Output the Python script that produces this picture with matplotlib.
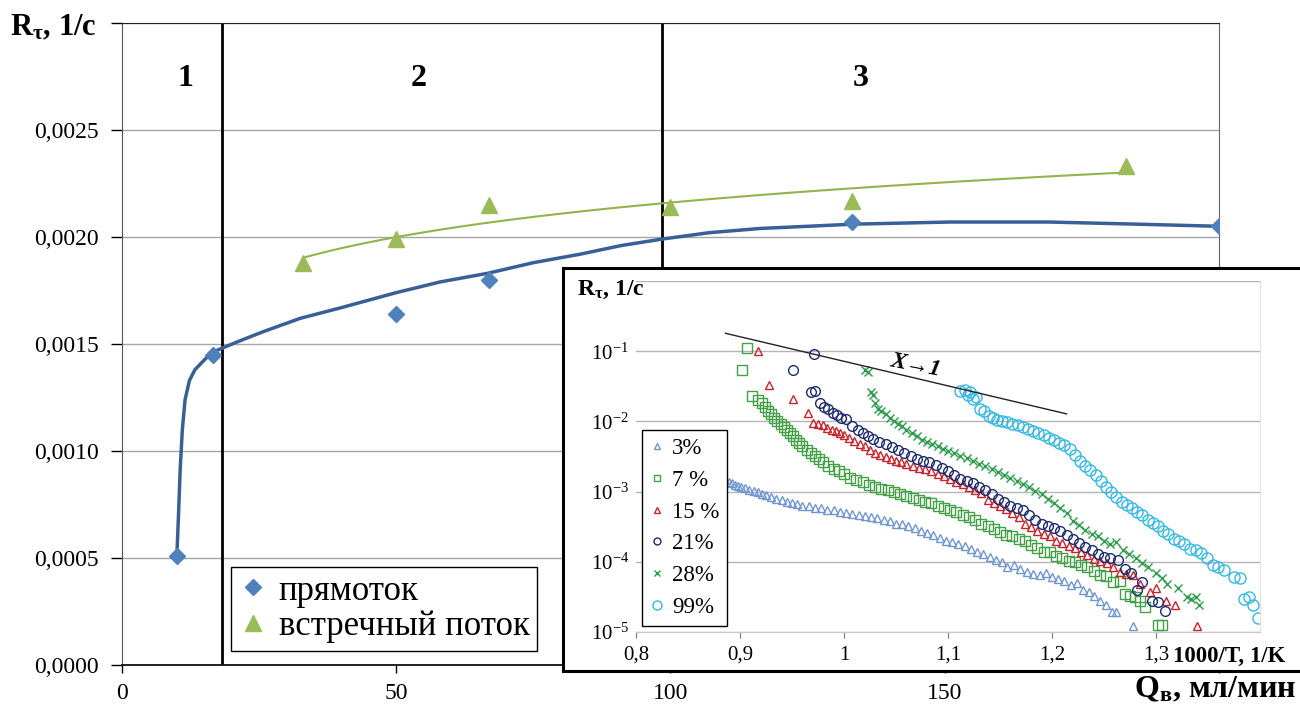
import numpy as np
import matplotlib
matplotlib.use("Agg")
import matplotlib.pyplot as plt
from matplotlib.ticker import FuncFormatter, NullLocator
from matplotlib.lines import Line2D

plt.rcParams['font.family'] = ['Liberation Serif', 'DejaVu Serif']
plt.rcParams['mathtext.fontset'] = 'custom'
plt.rcParams['mathtext.rm'] = 'Liberation Serif'
plt.rcParams['mathtext.it'] = 'Liberation Serif:italic'
plt.rcParams['mathtext.bf'] = 'Liberation Serif:bold'

# --- main chart: Rτ vs water flow ---
q_pr = [10, 16.5, 50, 67, 133, 200]
r_pr = [0.00051, 0.00145, 0.00164, 0.00180, 0.00207, 0.00205]
q_vs = [33, 50, 67, 100, 133, 183]
r_vs = [0.00188, 0.00199, 0.00215, 0.00214, 0.00217, 0.00233]

# smoothed curve for "прямоток"
curve_q = [10, 10.3, 10.6, 11, 11.5, 12.3, 13.3, 14.8, 16.4, 18.2, 22, 26, 32.5, 40,
           50, 58, 66.6, 75, 83.6, 91, 98.4, 107, 116.4, 125, 133.4, 151, 169, 185, 200]
curve_r = [0.00051, 0.00070, 0.00091, 0.00110, 0.00124, 0.00133, 0.00138, 0.00142,
           0.00146, 0.00148, 0.00152, 0.00156, 0.00162, 0.00167, 0.00174, 0.00179,
           0.00183, 0.00188, 0.00192, 0.00196, 0.00199, 0.00202, 0.00204, 0.00205,
           0.00206, 0.00207, 0.00207, 0.00206, 0.00205]

zone_bounds = [18.2, 98.4]
zone_labels = ["1", "2", "3"]
zone_x = [11.5, 54, 134.7]

# --- inset: Rτ vs 1000/T for different concentrations ---
x_3 = [0.883, 0.886, 0.889, 0.892, 0.895, 0.898, 0.901, 0.905, 0.909, 0.913, 0.917, 0.921,
       0.925, 0.930, 0.935, 0.940, 0.945, 0.950, 0.955, 0.960, 0.966, 0.972, 0.978, 0.984,
       0.990, 0.996, 1.002, 1.008, 1.014, 1.020, 1.026, 1.032, 1.038, 1.044, 1.050, 1.056,
       1.062, 1.068, 1.074, 1.080, 1.086, 1.092, 1.098, 1.104, 1.110, 1.116, 1.122, 1.128,
       1.134, 1.140, 1.146, 1.152, 1.157, 1.163, 1.169, 1.176, 1.182, 1.188, 1.194, 1.200,
       1.206, 1.212, 1.218, 1.224, 1.230, 1.236, 1.240, 1.246, 1.252, 1.258, 1.262, 1.278]
r_3 = [1.48e-3, 1.45e-3, 1.38e-3, 1.32e-3, 1.26e-3, 1.20e-3, 1.17e-3, 1.12e-3, 1.07e-3,
       1.02e-3, 9.8e-4, 9.3e-4, 8.9e-4, 8.5e-4, 7.9e-4, 7.6e-4, 7.2e-4, 6.9e-4, 6.6e-4,
       6.3e-4, 6.2e-4, 5.9e-4, 5.8e-4, 5.5e-4, 5.4e-4, 5.1e-4, 4.9e-4, 4.8e-4, 4.7e-4,
       4.5e-4, 4.4e-4, 4.2e-4, 4.0e-4, 3.8e-4, 3.5e-4, 3.4e-4, 3.2e-4, 3.0e-4, 2.75e-4,
       2.6e-4, 2.4e-4, 2.2e-4, 2.0e-4, 1.9e-4, 1.8e-4, 1.66e-4, 1.5e-4, 1.4e-4, 1.3e-4,
       1.17e-4, 1.07e-4, 1.0e-4, 8.3e-5, 8.9e-5, 7.9e-5, 7.2e-5, 6.8e-5, 6.5e-5, 6.9e-5,
       6.0e-5, 5.6e-5, 5.4e-5, 4.7e-5, 5.0e-5, 4.0e-5, 3.7e-5, 3.3e-5, 2.8e-5, 2.4e-5,
       1.9e-5, 1.9e-5, 1.2e-5]

x_7 = [0.902, 0.907, 0.912, 0.917, 0.921, 0.924, 0.927, 0.930, 0.933, 0.936, 0.939, 0.942,
       0.945, 0.948, 0.951, 0.954, 0.957, 0.960, 0.964, 0.968, 0.972, 0.976, 0.980, 0.985,
       0.990, 0.995, 1.000, 1.006, 1.012, 1.018, 1.024, 1.030, 1.036, 1.042, 1.048, 1.054,
       1.060, 1.066, 1.072, 1.078, 1.084, 1.090, 1.096, 1.102, 1.108, 1.114, 1.120, 1.126,
       1.132, 1.138, 1.144, 1.150, 1.156, 1.162, 1.168, 1.174, 1.180, 1.186, 1.192, 1.198,
       1.204, 1.210, 1.216, 1.222, 1.228, 1.234, 1.240, 1.246, 1.252, 1.259, 1.265, 1.270,
       1.275, 1.280, 1.285, 1.289, 1.302, 1.306]
r_7 = [5.4e-2, 1.1e-1, 2.3e-2, 2.0e-2, 1.8e-2, 1.6e-2, 1.4e-2, 1.26e-2, 1.12e-2, 1.02e-2,
       9.3e-3, 8.3e-3, 7.6e-3, 6.8e-3, 6.2e-3, 5.5e-3, 4.9e-3, 4.4e-3, 3.9e-3, 3.5e-3,
       3.2e-3, 2.9e-3, 2.6e-3, 2.3e-3, 2.1e-3, 1.95e-3, 1.78e-3, 1.58e-3, 1.45e-3, 1.35e-3,
       1.26e-3, 1.17e-3, 1.10e-3, 1.05e-3, 1.0e-3, 9.3e-4, 8.7e-4, 8.1e-4, 7.6e-4, 7.2e-4,
       6.8e-4, 6.3e-4, 5.9e-4, 5.5e-4, 5.1e-4, 4.7e-4, 4.3e-4, 3.9e-4, 3.5e-4, 3.2e-4,
       2.9e-4, 2.7e-4, 2.4e-4, 2.3e-4, 2.1e-4, 1.95e-4, 1.74e-4, 1.58e-4, 1.38e-4, 1.4e-4,
       1.2e-4, 1.15e-4, 1.02e-4, 9.8e-5, 8.9e-5, 8.3e-5, 7.4e-5, 6.5e-5, 6.3e-5, 5.1e-5,
       5.4e-5, 3.5e-5, 3.3e-5, 3.2e-5, 2.8e-5, 2.3e-5, 1.26e-5, 1.26e-5]

x_15 = [0.917, 0.928, 0.951, 0.965, 0.970, 0.975, 0.980, 0.984, 0.988, 0.992, 0.996, 1.000,
        1.005, 1.010, 1.015, 1.020, 1.025, 1.030, 1.035, 1.040, 1.045, 1.050, 1.055, 1.060,
        1.066, 1.072, 1.078, 1.084, 1.090, 1.096, 1.102, 1.108, 1.114, 1.120, 1.126, 1.132,
        1.138, 1.144, 1.150, 1.156, 1.162, 1.168, 1.174, 1.180, 1.186, 1.192, 1.198, 1.204,
        1.210, 1.216, 1.222, 1.228, 1.234, 1.240, 1.246, 1.253, 1.259, 1.265, 1.271, 1.278,
        1.285, 1.294, 1.300, 1.310, 1.318, 1.339]
r_15 = [1.0e-1, 3.3e-2, 2.1e-2, 1.3e-2, 9.5e-3, 9.3e-3, 8.9e-3, 8.1e-3, 7.6e-3, 7.2e-3,
        6.8e-3, 6.3e-3, 5.8e-3, 5.2e-3, 4.8e-3, 4.4e-3, 3.9e-3, 3.5e-3, 3.3e-3, 3.1e-3,
        2.95e-3, 2.75e-3, 2.6e-3, 2.5e-3, 2.35e-3, 2.2e-3, 2.1e-3, 1.95e-3, 1.8e-3, 1.66e-3,
        1.5e-3, 1.38e-3, 1.29e-3, 1.17e-3, 1.07e-3, 9.5e-4, 7.6e-4, 6.9e-4, 6.3e-4, 5.6e-4,
        4.9e-4, 4.3e-4, 3.5e-4, 3.1e-4, 2.75e-4, 2.5e-4, 2.3e-4, 2.0e-4, 1.86e-4, 1.7e-4,
        1.58e-4, 1.4e-4, 1.23e-4, 1.1e-4, 1.02e-4, 9.5e-5, 8.3e-5, 7.1e-5, 6.6e-5, 6.5e-5,
        4.9e-5, 3.7e-5, 4.2e-5, 2.8e-5, 2.4e-5, 1.2e-5]

x_21 = [0.951, 0.971, 0.968, 0.972, 0.977, 0.981, 0.985, 0.989, 0.993, 0.997, 1.002, 1.008,
        1.013, 1.018, 1.023, 1.028, 1.034, 1.040, 1.046, 1.052, 1.058, 1.064, 1.070, 1.076,
        1.082, 1.088, 1.094, 1.100, 1.106, 1.112, 1.118, 1.124, 1.130, 1.136, 1.142, 1.148,
        1.154, 1.160, 1.166, 1.172, 1.178, 1.184, 1.190, 1.196, 1.202, 1.208, 1.214, 1.220,
        1.226, 1.232, 1.238, 1.244, 1.250, 1.256, 1.263, 1.270, 1.276, 1.282, 1.287, 1.296,
        1.302, 1.309]
r_21 = [5.4e-2, 9.1e-2, 2.6e-2, 2.7e-2, 1.8e-2, 1.6e-2, 1.5e-2, 1.3e-2, 1.23e-2, 1.12e-2,
        1.07e-2, 8.5e-3, 7.6e-3, 6.8e-3, 6.2e-3, 5.6e-3, 5.1e-3, 4.7e-3, 4.3e-3, 3.9e-3,
        3.5e-3, 3.2e-3, 2.95e-3, 2.75e-3, 2.6e-3, 2.4e-3, 2.2e-3, 1.95e-3, 1.74e-3, 1.5e-3,
        1.4e-3, 1.32e-3, 1.17e-3, 1.05e-3, 9.1e-4, 7.9e-4, 7.1e-4, 6.3e-4, 5.9e-4, 5.4e-4,
        4.7e-4, 4.0e-4, 3.5e-4, 3.2e-4, 3.0e-4, 2.75e-4, 2.4e-4, 2.1e-4, 1.86e-4, 1.6e-4,
        1.45e-4, 1.3e-4, 1.17e-4, 1.12e-4, 1.05e-4, 7.9e-5, 6.9e-5, 4.0e-5, 5.2e-5, 2.8e-5,
        2.7e-5, 2.0e-5]

x_28 = [1.020, 1.023, 1.026, 1.028, 1.030, 1.033, 1.036, 1.040, 1.044, 1.048, 1.052, 1.056,
        1.060, 1.065, 1.070, 1.075, 1.080, 1.085, 1.090, 1.095, 1.100, 1.106, 1.112, 1.118,
        1.124, 1.130, 1.136, 1.142, 1.148, 1.154, 1.160, 1.166, 1.172, 1.178, 1.184, 1.190,
        1.196, 1.202, 1.208, 1.214, 1.220, 1.226, 1.232, 1.238, 1.244, 1.250, 1.256, 1.262,
        1.268, 1.274, 1.281, 1.287, 1.292, 1.300, 1.306, 1.311, 1.321, 1.330, 1.334, 1.338,
        1.341]
r_28 = [5.4e-2, 5.1e-2, 2.6e-2, 2.4e-2, 1.8e-2, 1.5e-2, 1.4e-2, 1.26e-2, 1.12e-2, 1.02e-2,
        9.3e-3, 8.5e-3, 7.6e-3, 6.9e-3, 6.2e-3, 5.5e-3, 5.1e-3, 4.8e-3, 4.4e-3, 4.1e-3,
        3.8e-3, 3.5e-3, 3.2e-3, 3.0e-3, 2.75e-3, 2.5e-3, 2.3e-3, 2.1e-3, 1.9e-3, 1.74e-3,
        1.58e-3, 1.4e-3, 1.29e-3, 1.15e-3, 1.02e-3, 9.1e-4, 7.9e-4, 6.9e-4, 5.9e-4, 5.0e-4,
        3.8e-4, 3.3e-4, 2.8e-4, 2.5e-4, 2.3e-4, 2.0e-4, 1.8e-4, 1.9e-4, 1.45e-4, 1.3e-4,
        1.15e-4, 9.5e-5, 8.3e-5, 6.9e-5, 5.8e-5, 4.9e-5, 4.2e-5, 3.2e-5, 3.0e-5, 3.2e-5,
        2.4e-5]

x_99 = [1.112, 1.116, 1.119, 1.121, 1.124, 1.127, 1.131, 1.135, 1.139, 1.143, 1.147, 1.152,
        1.157, 1.162, 1.167, 1.172, 1.177, 1.182, 1.187, 1.192, 1.197, 1.202, 1.207, 1.212,
        1.217, 1.222, 1.227, 1.232, 1.237, 1.242, 1.247, 1.252, 1.257, 1.262, 1.267, 1.272,
        1.277, 1.282, 1.287, 1.292, 1.297, 1.302, 1.307, 1.312, 1.317, 1.322, 1.327, 1.333,
        1.338, 1.343, 1.349, 1.355, 1.360, 1.365, 1.375, 1.381, 1.385, 1.389, 1.393, 1.398]
r_99 = [2.75e-2, 2.8e-2, 2.4e-2, 2.6e-2, 2.1e-2, 2.2e-2, 1.5e-2, 1.4e-2, 1.2e-2, 1.1e-2,
        1.05e-2, 1.0e-2, 9.8e-3, 9.1e-3, 8.9e-3, 8.3e-3, 7.9e-3, 7.4e-3, 6.9e-3, 6.5e-3,
        5.8e-3, 5.4e-3, 4.9e-3, 4.6e-3, 4.0e-3, 3.3e-3, 2.75e-3, 2.3e-3, 2.0e-3, 1.7e-3,
        1.4e-3, 1.17e-3, 9.8e-4, 8.3e-4, 7.2e-4, 6.5e-4, 5.8e-4, 5.2e-4, 4.7e-4, 4.0e-4,
        3.6e-4, 3.2e-4, 2.75e-4, 2.5e-4, 2.1e-4, 1.95e-4, 1.8e-4, 1.5e-4, 1.45e-4, 1.35e-4,
        1.15e-4, 8.9e-5, 8.3e-5, 7.6e-5, 6.0e-5, 5.9e-5, 3.0e-5, 3.2e-5, 2.4e-5, 1.6e-5]

# guide line "X→1"
guide_x = [0.886, 1.214]
guide_r = [0.18, 0.0128]

inset_series = [
    ("3%", x_3, r_3, "^", "#7096cf", 6),
    ("7 %", x_7, r_7, "s", "#43a047", 6.5),
    ("15 %", x_15, r_15, "^", "#c8232c", 6),
    ("21%", x_21, r_21, "o", "#1c2b6e", 7),
    ("28%", x_28, r_28, "x", "#2a9d4a", 6),
    ("99%", x_99, r_99, "o", "#33b8e4", 8),
]

W, H = 1300, 711
fig = plt.figure(figsize=(13, 7.11), dpi=100)

# main axes
ax = fig.add_axes([122 / W, 46 / H, 1097 / W, 642 / H])
ax.set_xlim(0, 200)
ax.set_ylim(0, 0.003)
ax.set_yticks(np.arange(0, 0.00301, 0.0005))
ax.set_xticks([0, 50, 100, 150, 200])
ax.yaxis.set_major_formatter(FuncFormatter(
    lambda v, p: "" if v > 0.0029 else f"{v:.4f}".replace(".", ",")))
ax.xaxis.set_major_formatter(FuncFormatter(
    lambda v, p: "" if v > 190 else f"{v:g}"))
ax.grid(axis="y", color="#a6a6a6", lw=1)
ax.set_axisbelow(True)
ax.tick_params(axis="y", direction="out", length=8, width=1, labelsize=17, pad=9)
ax.tick_params(axis="x", direction="out", length=6, width=1, labelsize=17, pad=7)
ax.spines["top"].set_color("#222222")
ax.spines["right"].set_color("#666666")
ax.spines["left"].set_color("#555555")
ax.spines["bottom"].set_color("#111111")
ax.spines["bottom"].set_linewidth(1.3)

for xb in zone_bounds:
    ax.axvline(xb, color="black", lw=2)
for lab, xz in zip(zone_labels, zone_x):
    ax.text(xz, 0.00274, lab, fontsize=23, fontweight="bold", ha="center", va="center")

ax.plot(curve_q, curve_r, color="#3a5e96", lw=2.5, zorder=3)
lgx = np.log(q_vs)
k = np.polyfit(lgx, r_vs, 1)
qq = np.linspace(min(q_vs), max(q_vs), 100)
ax.plot(qq, np.polyval(k, np.log(qq)), color="#93b44c", lw=1.5, zorder=3)
ax.plot(q_pr, r_pr, "D", color="#4f81bd", ms=8.5, ls="none", zorder=4)
ax.plot(q_vs, r_vs, "^", color="#9bbb59", ms=11.5, ls="none", zorder=4)

h1 = Line2D([], [], marker="D", color="#4f81bd", ls="none", ms=8.5)
h2 = Line2D([], [], marker="^", color="#9bbb59", ls="none", ms=11.5)
leg = fig.legend([h1, h2], ["прямоток", "встречный поток"], loc="lower left",
                 bbox_to_anchor=(231 / W, (H - 651) / H), fontsize=25,
                 frameon=True, fancybox=False, edgecolor="black", framealpha=1,
                 handlelength=0.8, handletextpad=0.35, labelspacing=0.08,
                 borderpad=0.22, borderaxespad=0)
leg.get_frame().set_linewidth(1)

fig.text(10 / W, 1 - 28 / H, r"$\mathbf{R_{τ}}$, 1/c", fontsize=22, fontweight="bold",
         ha="left", va="center")
fig.text(1297 / W, 1 - 690 / H, r"$\mathbf{Q_{в}}$, мл/мин", fontsize=23,
         fontweight="bold", ha="right", va="center")

# inset frame
fr = fig.add_axes([563 / W, (H - 671) / H, (W - 563) / W + 0.01, (671 - 268) / H])
fr.set_xticks([])
fr.set_yticks([])
fr.set_facecolor("white")
for s in fr.spines.values():
    s.set_linewidth(2.2)
    s.set_color("black")

# inset data axes
ai = fig.add_axes([636 / W, (H - 632) / H, (1260 - 636) / W, (632 - 281) / H])
ai.set_facecolor("none")
ai.set_yscale("log")
ai.set_xlim(0.8, 1.4)
ai.set_ylim(1e-5, 1)
ai.set_yticks([1e-5, 1e-4, 1e-3, 1e-2, 1e-1, 1])
ai.yaxis.set_minor_locator(NullLocator())
ai.yaxis.set_major_formatter(FuncFormatter(
    lambda v, p: "" if v > 0.5 else r"$10^{%d}$" % int(round(np.log10(v)))))
ai.set_xticks([0.8, 0.9, 1.0, 1.1, 1.2, 1.3])
ai.xaxis.set_major_formatter(FuncFormatter(lambda v, p: f"{v:g}".replace(".", ",")))
ai.grid(axis="y", color="#b5b5b5", lw=1)
ai.tick_params(axis="y", length=0, labelsize=15, pad=5)
ai.tick_params(axis="x", direction="out", length=4, color="#777777", labelsize=15, pad=6)
for s in ["top", "left"]:
    ai.spines[s].set_visible(False)
ai.spines["right"].set_color("#e2e2e2")
ai.spines["bottom"].set_color("#c8c8c8")

handles = []
for lab, xs, rs, mk, col, ms in inset_series:
    if mk == "x":
        ai.plot(xs, rs, mk, color=col, ms=ms, mew=1.0, ls="none")
        handles.append(Line2D([], [], marker=mk, color=col, ls="none", ms=4.5, mew=1.0))
    else:
        ai.plot(xs, rs, mk, mfc="none", mec=col, ms=ms, mew=1.0, ls="none")
        handles.append(Line2D([], [], marker=mk, mfc="none", mec=col, ls="none",
                              ms=5 if lab != "99%" else 6.5, mew=1.0))

ai.plot(guide_x, guide_r, color="#222222", lw=1)
ai.text(1.069, 0.062, "X→1", fontsize=17, fontweight="bold", fontstyle="italic",
        rotation=-11, ha="center", va="center")

leg2 = fig.legend(handles, [s[0] for s in inset_series], loc="lower left",
                  bbox_to_anchor=(642 / W, (H - 626) / H), fontsize=16.5,
                  frameon=True, fancybox=False, edgecolor="black", framealpha=1,
                  handlelength=0.6, handletextpad=0.35, labelspacing=0.47,
                  borderpad=0.35, borderaxespad=0)
leg2.get_frame().set_linewidth(1)
leg2.set_zorder(10)

fig.text(577 / W, 1 - 290 / H, r"$\mathbf{R_{τ}}$, 1/c", fontsize=17, fontweight="bold",
         ha="left", va="center")
fig.text(1173 / W, 1 - 656 / H, "1000/T, 1/K", fontsize=16.5, fontweight="bold",
         ha="left", va="center")

fig.savefig("out.png", dpi=100)
